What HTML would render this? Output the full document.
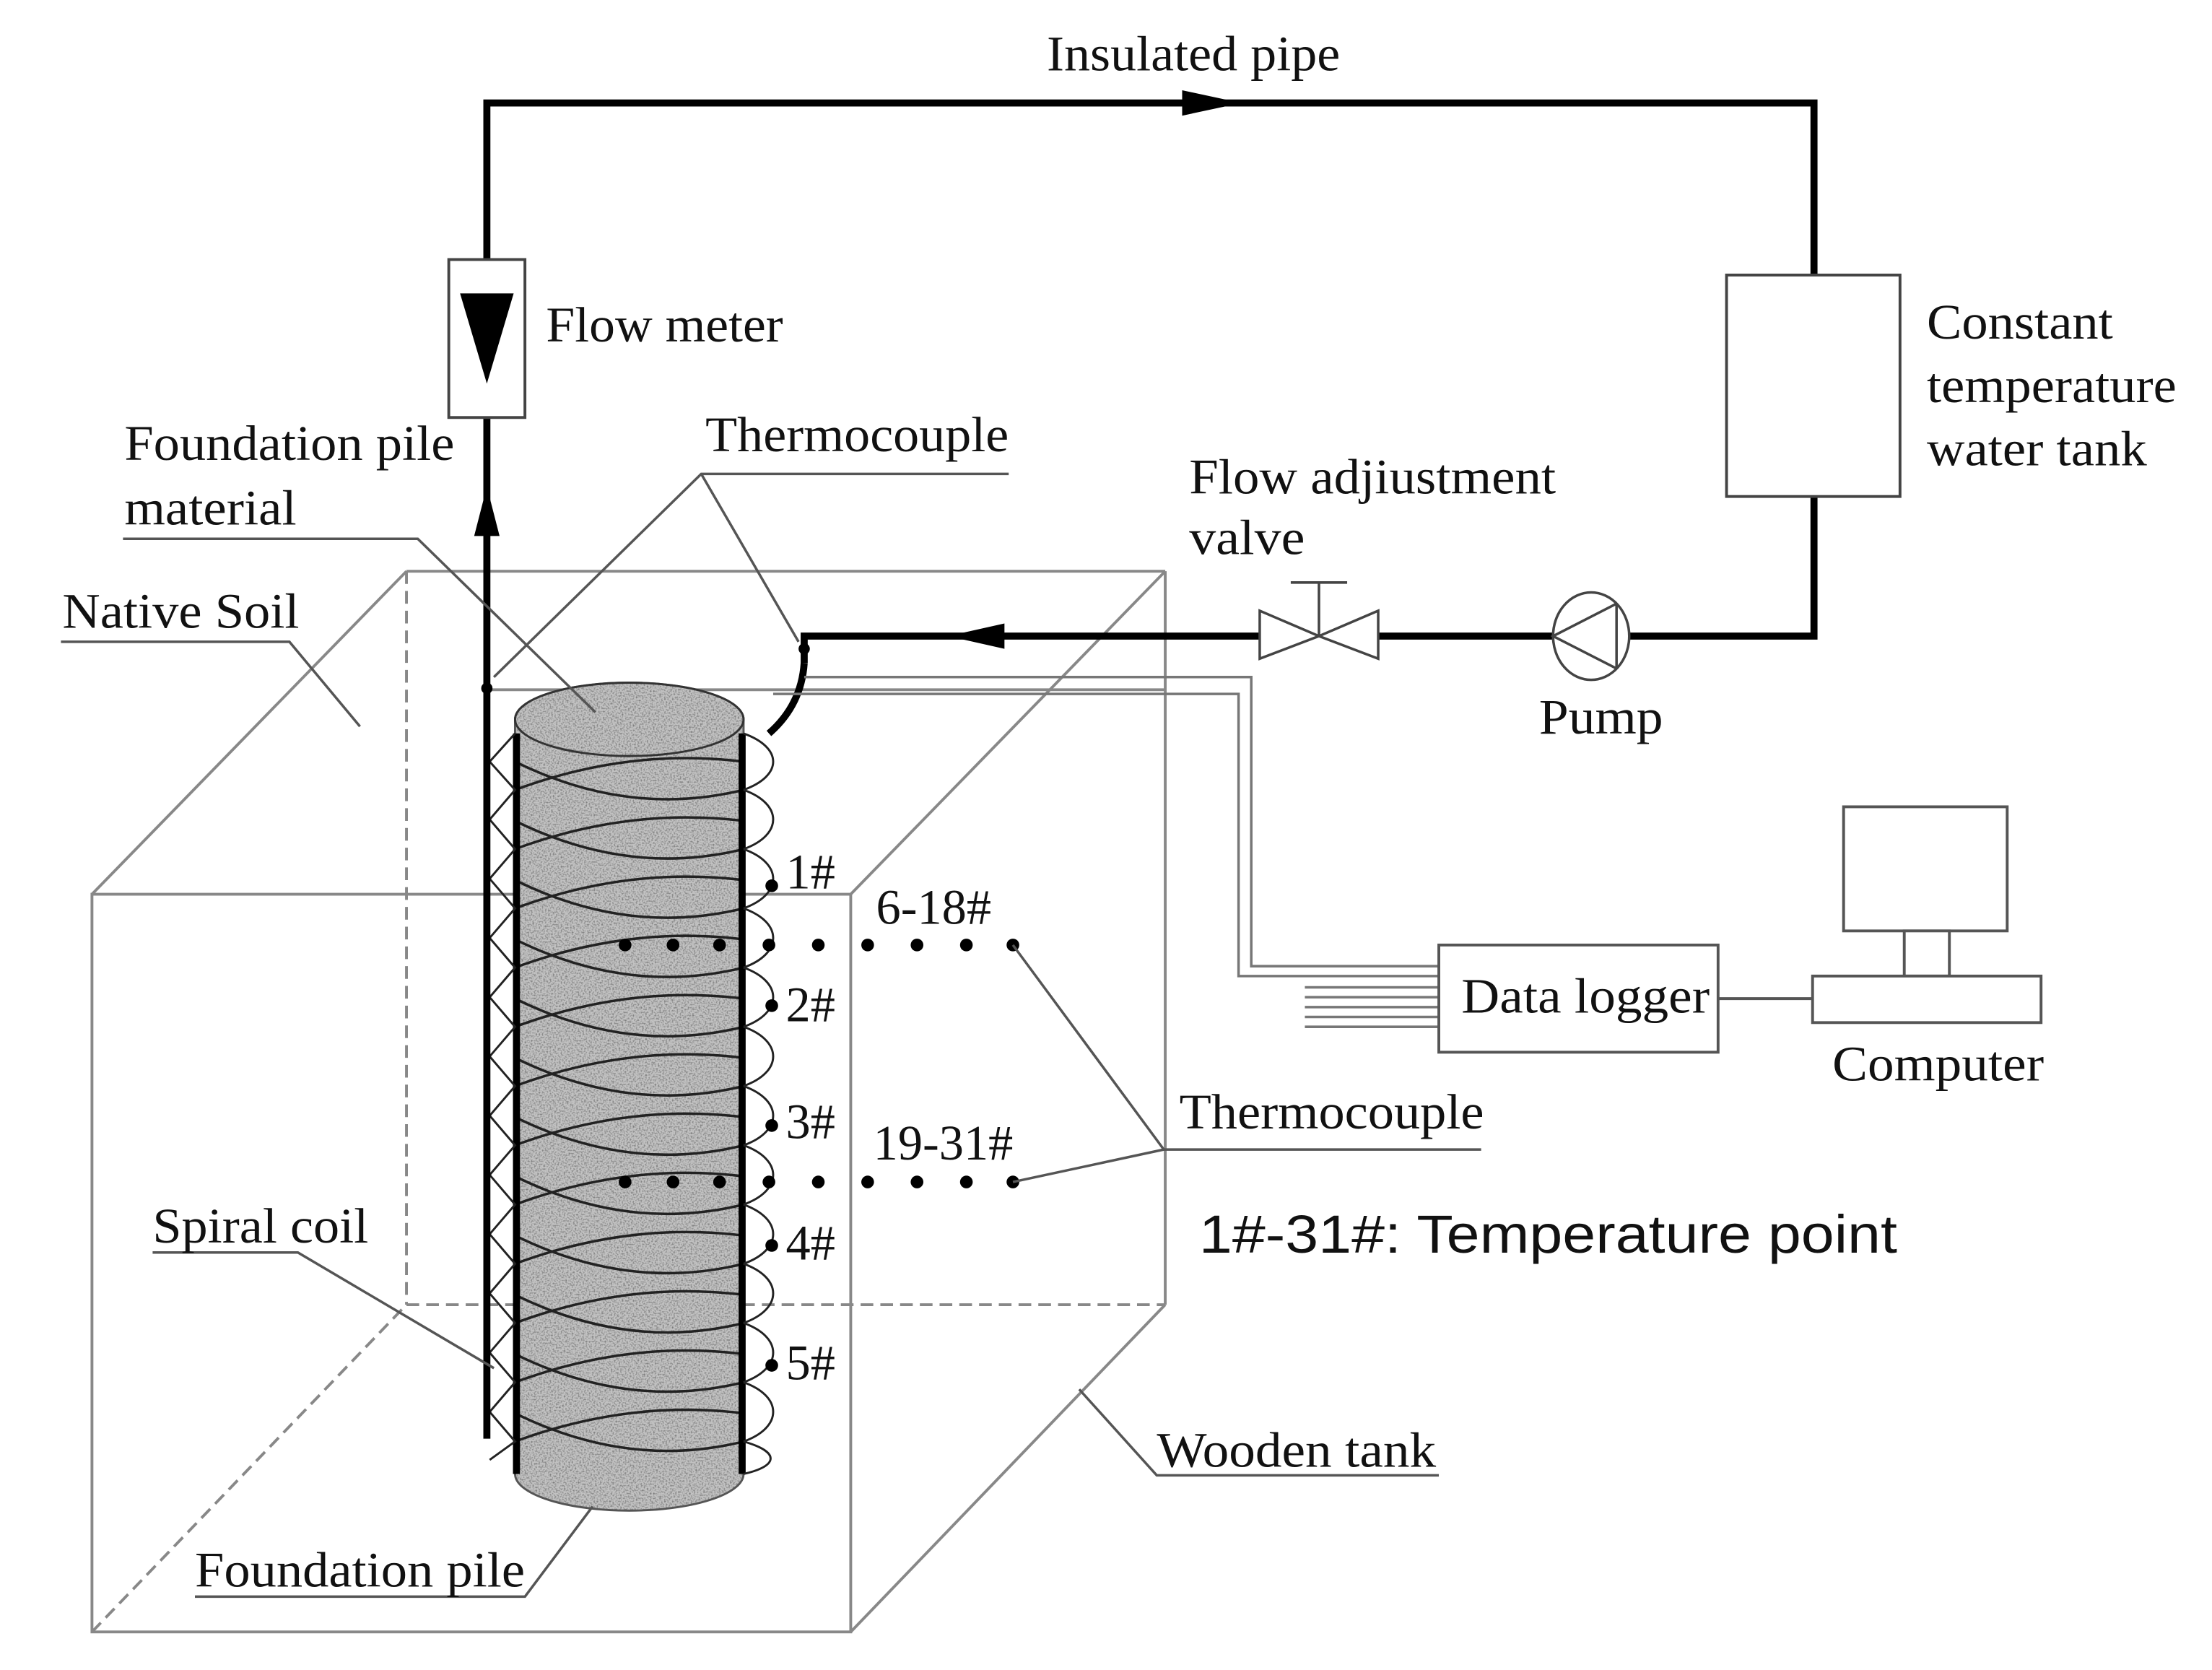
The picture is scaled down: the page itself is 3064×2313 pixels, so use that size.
<!DOCTYPE html>
<html><head><meta charset="utf-8"><style>
html,body{margin:0;padding:0;background:#fff}
svg{display:block}
text{font-family:"Liberation Serif",serif;font-size:35px;fill:#111}
</style></head><body>
<svg width="3064" height="2313" viewBox="0 0 1568 1184" xmlns="http://www.w3.org/2000/svg">
<defs>
<filter id="st" x="0" y="0" width="1" height="1">
<feTurbulence type="fractalNoise" baseFrequency="0.9" numOctaves="1" seed="3" result="n"/>
<feColorMatrix in="n" type="matrix" values="0 0 0 0 0  0 0 0 0 0  0 0 0 0 0  0 0 0 -2.2 1.25" result="d"/>
<feComposite in="d" in2="SourceGraphic" operator="in"/>
</filter>
</defs>
<rect width="1568" height="1184" fill="#fff"/>

<g stroke="#888" stroke-width="2" fill="none">
<line x1="288" y1="405" x2="826" y2="405"/>
<line x1="826" y1="405" x2="826" y2="925"/>
<line x1="65" y1="634" x2="288" y2="405"/>
<line x1="603" y1="634" x2="826" y2="405"/>
<line x1="603" y1="1157" x2="826" y2="925"/>
<rect x="65" y="634" width="538" height="523"/>
<line x1="345" y1="489" x2="826" y2="489"/>
<g stroke-dasharray="9,5">
<line x1="288" y1="405" x2="288" y2="925"/>
<line x1="288" y1="925" x2="826" y2="925"/>
<line x1="65" y1="1157" x2="288" y2="925"/>
</g>
</g>

<g>
<path d="M365 510 A81 26 0 0 1 527 510 L527 1045 A81 26 0 0 1 365 1045 Z" fill="#c2c2c2"/>
<path d="M365 510 A81 26 0 0 1 527 510 L527 1045 A81 26 0 0 1 365 1045 Z" fill="#fff" filter="url(#st)" opacity="0.45"/>
<path d="M365 510 A81 26 0 0 1 527 510 L527 1045 A81 26 0 0 1 365 1045 Z" fill="none" stroke="#555" stroke-width="1.5"/>
<ellipse cx="446" cy="510" rx="81" ry="26" fill="none" stroke="#333" stroke-width="1.5"/>
<g stroke="#222" stroke-width="1.8" fill="none">
<path d="M365 540 Q446 580 527 560"/>
<path d="M365 582 Q446 622 527 602"/>
<path d="M365 624 Q446 664 527 644"/>
<path d="M365 666 Q446 706 527 686"/>
<path d="M365 708 Q446 748 527 728"/>
<path d="M365 750 Q446 790 527 770"/>
<path d="M365 792 Q446 832 527 812"/>
<path d="M365 834 Q446 874 527 854"/>
<path d="M365 876 Q446 916 527 896"/>
<path d="M365 918 Q446 958 527 938"/>
<path d="M365 960 Q446 1000 527 980"/>
<path d="M365 1002 Q446 1042 527 1022"/>
<path d="M365 560 Q446 530 527 540"/>
<path d="M365 602 Q446 572 527 582"/>
<path d="M365 644 Q446 614 527 624"/>
<path d="M365 686 Q446 656 527 666"/>
<path d="M365 728 Q446 698 527 708"/>
<path d="M365 770 Q446 740 527 750"/>
<path d="M365 812 Q446 782 527 792"/>
<path d="M365 854 Q446 824 527 834"/>
<path d="M365 896 Q446 866 527 876"/>
<path d="M365 938 Q446 908 527 918"/>
<path d="M365 980 Q446 950 527 960"/>
<path d="M365 1022 Q446 992 527 1002"/>
</g>
<line x1="366" y1="520" x2="366" y2="1045" stroke="#000" stroke-width="5"/>
<line x1="526" y1="520" x2="526" y2="1045" stroke="#000" stroke-width="5"/>
</g>

<g stroke="#222" stroke-width="1.5" fill="none">
<path d="M527 520 C555 530 555 550 527 560"/>
<path d="M527 560 C555 570 555 592 527 602"/>
<path d="M527 602 C555 612 555 634 527 644"/>
<path d="M527 644 C555 654 555 676 527 686"/>
<path d="M527 686 C555 696 555 718 527 728"/>
<path d="M527 728 C555 738 555 760 527 770"/>
<path d="M527 770 C555 780 555 802 527 812"/>
<path d="M527 812 C555 822 555 844 527 854"/>
<path d="M527 854 C555 864 555 886 527 896"/>
<path d="M527 896 C555 906 555 928 527 938"/>
<path d="M527 938 C555 948 555 970 527 980"/>
<path d="M527 980 C555 990 555 1012 527 1022"/>
<path d="M527 1022 C555 1030 550 1040 527 1045"/>
<path d="M365 520 L347 540 L365 560 L347 581 L365 602 L347 623 L365 644 L347 665 L365 686 L347 707 L365 728 L347 749 L365 770 L347 791 L365 812 L347 833 L365 854 L347 875 L365 896 L347 917 L365 938 L347 959 L365 980 L347 1001 L365 1022 L347 1035"/>
</g>

<g stroke="#000" stroke-width="5" fill="none">
<polyline points="345,1020 345,73 1286,73 1286,195"/>
<polyline points="1286,352 1286,451 1155,451"/>
<line x1="1101" y1="451" x2="977" y2="451"/>
<polyline points="893,451 570,451 570,470"/>
<path d="M570 470 Q568 500 545 520"/>
</g>
<circle cx="345" cy="488" r="4" fill="#000"/>
<circle cx="570" cy="460" r="4" fill="#000"/>
<polygon points="880,73 838,64 838,82" fill="#000"/>
<polygon points="345,345 336,380 354,380" fill="#000"/>
<polygon points="672,451 712,442 712,460" fill="#000"/>

<rect x="318" y="184" width="54" height="112" fill="#fff" stroke="#444" stroke-width="2"/>
<polygon points="326,208 364,208 345,272" fill="#000"/>

<rect x="1224" y="195" width="123" height="157" fill="#fff" stroke="#444" stroke-width="2"/>

<g stroke="#444" stroke-width="1.8" fill="#fff">
<polygon points="893,433 893,467 935,451"/>
<polygon points="977,433 977,467 935,451"/>
<line x1="935" y1="451" x2="935" y2="413"/>
<line x1="915" y1="413" x2="955" y2="413"/>
</g>
<g stroke="#444" stroke-width="1.8" fill="none">
<ellipse cx="1128" cy="451" rx="27" ry="31"/>
<polyline points="1146,428 1101,451 1146,474"/>
<line x1="1146" y1="428" x2="1146" y2="474"/>
</g>

<g stroke="#777" stroke-width="1.8" fill="none">
<polyline points="570,480 887,480 887,685 1020,685"/>
<polyline points="548,492 878,492 878,692 1020,692"/>
<line x1="925" y1="700" x2="1020" y2="700"/>
<line x1="925" y1="707" x2="1020" y2="707"/>
<line x1="925" y1="714" x2="1020" y2="714"/>
<line x1="925" y1="721" x2="1020" y2="721"/>
<line x1="925" y1="728" x2="1020" y2="728"/>
</g>

<g stroke="#555" stroke-width="2" fill="#fff">
<rect x="1020" y="670" width="198" height="76"/>
<rect x="1307" y="572" width="116" height="88"/>
<rect x="1350" y="660" width="32" height="32"/>
<rect x="1285" y="692" width="162" height="33"/>
<line x1="1218" y1="708" x2="1285" y2="708"/>
</g>

<g fill="#000">
<circle cx="547" cy="628" r="4.5"/><circle cx="547" cy="713" r="4.5"/><circle cx="547" cy="798" r="4.5"/><circle cx="547" cy="883" r="4.5"/><circle cx="547" cy="968" r="4.5"/>
<circle cx="443" cy="670" r="4.5"/><circle cx="477" cy="670" r="4.5"/><circle cx="510" cy="670" r="4.5"/><circle cx="545" cy="670" r="4.5"/><circle cx="580" cy="670" r="4.5"/><circle cx="615" cy="670" r="4.5"/><circle cx="650" cy="670" r="4.5"/><circle cx="685" cy="670" r="4.5"/><circle cx="718" cy="670" r="4.5"/>
<circle cx="443" cy="838" r="4.5"/><circle cx="477" cy="838" r="4.5"/><circle cx="510" cy="838" r="4.5"/><circle cx="545" cy="838" r="4.5"/><circle cx="580" cy="838" r="4.5"/><circle cx="615" cy="838" r="4.5"/><circle cx="650" cy="838" r="4.5"/><circle cx="685" cy="838" r="4.5"/><circle cx="718" cy="838" r="4.5"/>
</g>

<g stroke="#555" stroke-width="1.8" fill="none">
<polyline points="715,336 497,336 350,480"/>
<line x1="497" y1="336" x2="566" y2="455"/>
<polyline points="87,382 296,382 422,505"/>
<polyline points="43,455 205,455 255,515"/>
<polyline points="108,888 211,888 350,970"/>
<polyline points="138,1132 372,1132 420,1068"/>
<polyline points="1020,1046 820,1046 765,985"/>
<polyline points="1050,815 825,815 718,670"/>
<line x1="825" y1="815" x2="718" y2="838"/>
</g>

<g>
<text x="742" y="50" textLength="208" lengthAdjust="spacingAndGlyphs">Insulated pipe</text>
<text x="387" y="242" textLength="168" lengthAdjust="spacingAndGlyphs">Flow meter</text>
<text x="1366" y="240" textLength="132" lengthAdjust="spacingAndGlyphs">Constant</text>
<text x="1366" y="285" textLength="177" lengthAdjust="spacingAndGlyphs">temperature</text>
<text x="1366" y="330" textLength="156" lengthAdjust="spacingAndGlyphs">water tank</text>
<text x="88" y="326" textLength="234" lengthAdjust="spacingAndGlyphs">Foundation pile</text>
<text x="88" y="372" textLength="122" lengthAdjust="spacingAndGlyphs">material</text>
<text x="500" y="320" textLength="215" lengthAdjust="spacingAndGlyphs">Thermocouple</text>
<text x="843" y="350" textLength="260" lengthAdjust="spacingAndGlyphs">Flow adjiustment</text>
<text x="843" y="393" textLength="82" lengthAdjust="spacingAndGlyphs">valve</text>
<text x="44" y="445" textLength="168" lengthAdjust="spacingAndGlyphs">Native Soil</text>
<text x="1091" y="520" textLength="88" lengthAdjust="spacingAndGlyphs">Pump</text>
<text x="557" y="630">1#</text>
<text x="621" y="655">6-18#</text>
<text x="557" y="724">2#</text>
<text x="1036" y="718" textLength="176" lengthAdjust="spacingAndGlyphs">Data logger</text>
<text x="1299" y="766" textLength="150" lengthAdjust="spacingAndGlyphs">Computer</text>
<text x="557" y="807">3#</text>
<text x="836" y="800" textLength="216" lengthAdjust="spacingAndGlyphs">Thermocouple</text>
<text x="619" y="822">19-31#</text>
<text x="108" y="881" textLength="153" lengthAdjust="spacingAndGlyphs">Spiral coil</text>
<text x="557" y="893">4#</text>
<text x="557" y="978">5#</text>
<text x="820" y="1040" textLength="198" lengthAdjust="spacingAndGlyphs">Wooden tank</text>
<text x="138" y="1125" textLength="234" lengthAdjust="spacingAndGlyphs">Foundation pile</text>
<text x="850" y="888" textLength="495" lengthAdjust="spacingAndGlyphs" style="font-family:'Liberation Sans','DejaVu Sans',sans-serif;font-size:38px">1#-31#: Temperature point</text>
</g>
</svg>
</body></html>
